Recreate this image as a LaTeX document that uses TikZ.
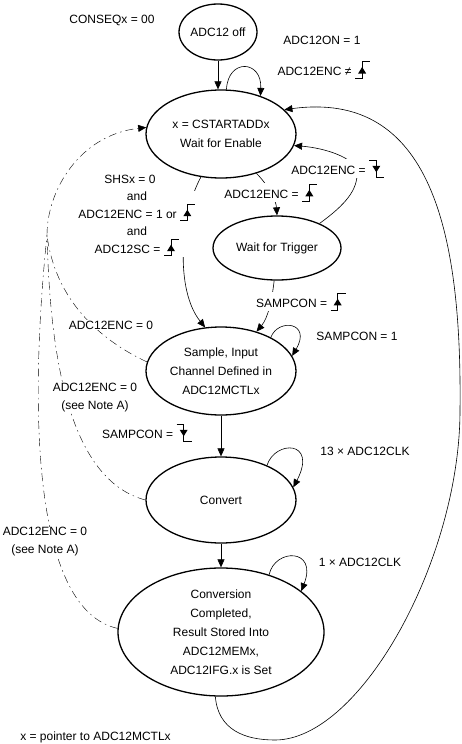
\documentclass[tikz,border=0pt]{standalone}
\usepackage{fontspec}
\setmainfont{Liberation Sans}
\usetikzlibrary{shapes.geometric,arrows.meta}

\newcommand{\edgeup}{\tikz[baseline=0pt,x=1pt,y=1pt,line width=0.6pt]{\draw (0,-2.5) -- (7,-2.5) -- (7,14) -- (15,14); \fill (3,2) -- (11,2) -- (7,8.5) -- cycle;}}
\newcommand{\edgedown}{\tikz[baseline=0pt,x=1pt,y=1pt,line width=0.6pt]{\draw (0,14) -- (7,14) -- (7,-2.5) -- (15,-2.5); \fill (3,8.5) -- (11,8.5) -- (7,2) -- cycle;}}

\tikzset{
    adcstate/.style={ellipse, draw, line width=1.3pt, inner sep=0pt, align=center, font=\fontsize{12}{19}\selectfont},
    cond/.style={inner sep=1pt, align=center, font=\fontsize{12}{17.5}\selectfont},
    erase/.style={fill=white},
    trans/.style={-{Triangle[length=8pt,width=7pt]}, line width=0.6pt},
    abort/.style={line width=0.4pt, dash pattern=on 8pt off 4pt on 1.5pt off 4pt}
}

\begin{document}
\begin{tikzpicture}[x=1pt,y=1pt]
    \useasboundingbox (0,0) rectangle (461,-744);
    % states
    \node[adcstate, minimum width=76pt, minimum height=56pt] (off) at (218,-32) {ADC12 off};
    \node[adcstate, minimum width=150pt, minimum height=88pt] (en) at (221,-134) {x = CSTARTADDx\\Wait for Enable};
    \node[adcstate, minimum width=128pt, minimum height=64pt] (wft) at (277,-248) {Wait for Trigger};
    \node[adcstate, minimum width=150pt, minimum height=88pt] (sam) at (221,-371) {Sample, Input\\Channel Defined in\\ADC12MCTLx};
    \node[adcstate, minimum width=150pt, minimum height=86pt] (cnv) at (221,-500) {Convert};
    \node[adcstate, minimum width=206pt, minimum height=128pt] (cc) at (221,-632) {Conversion\\Completed,\\Result Stored Into\\ADC12MEMx,\\ADC12IFG.x is Set};

    % transitions
    \draw[trans] (off.south) -- (off.south |- en.north);
    \draw[trans] (en.83) .. controls (228,-58) and (262,-60) .. (en.44);
    \draw[trans] (en.312) .. controls (268,-185) and (276,-200) .. (wft.north);
    \draw[trans] (wft.30) .. controls (345,-205) and (358,-190) .. (357,-172)
        .. controls (356,-158) and (325,-148) .. (en.351);
    \draw[trans] (cc.265) .. controls (218,-730) and (245,-740) .. (275,-740)
        .. controls (360,-740) and (460,-560) .. (460,-410)
        .. controls (462,-230) and (430,-90) .. (en.21);
    \draw[trans] (en.245) .. controls (180,-215) and (175,-290) .. (sam.110);
    \draw[trans] (wft.265) .. controls (272,-300) and (268,-318) .. (sam.48);
    \draw[trans] (sam.34) .. controls (278,-318) and (312,-322) .. (sam.12);
    \draw[trans] (sam.south) -- (cnv.north);
    \draw[trans] (cnv.37) .. controls (275,-440) and (318,-440) .. (cnv.10);
    \draw[trans] (cnv.south) -- (cc.north);
    \draw[trans] (cc.50) .. controls (275,-548) and (318,-548) .. (cc.27);

    % ADC12ENC = 0 back to start
    \coordinate (join) at (47,-235);
    \draw[abort] (sam.173) .. controls (100,-340) and (55,-300) .. (join);
    \draw[abort] (cnv.180) .. controls (70,-480) and (50,-360) .. (join);
    \draw[abort] (cc.178) .. controls (35,-610) and (28,-420) .. (join);
    \draw[abort, -{Triangle[length=8pt,width=7pt]}] (join) .. controls (47,-190) and (80,-135) .. (en.175);

    % conditions
    \node[cond, anchor=base] (conseq) at (112,-23.3) {CONSEQx = 00};
    \node[cond, anchor=base] (adcon) at (322,-44.3) {ADC12ON = 1};
    \node[cond, anchor=base] (encne) at (324,-75.5) {ADC12ENC ≠ \edgeup};
    \node[cond, erase, anchor=base] (encdown) at (338,-174.3) {ADC12ENC = \edgedown};
    \node[cond, erase, anchor=base] (encup) at (271,-198.3) {ADC12ENC = \edgeup};
    \node[cond, anchor=base] (shs) at (130,-183.3) {SHSx = 0};
    \node[cond, erase] (shsrest) at (137,-224) {and\\ADC12ENC = 1 or \edgeup\\and\\ADC12SC = \edgeup};
    \node[cond, erase, anchor=base] (sampup) at (301,-307.3) {SAMPCON = \edgeup};
    \node[cond, anchor=base] (samphigh) at (357,-340.3) {SAMPCON = 1};
    \node[cond, erase, anchor=base] (abortsam) at (111,-329.3) {ADC12ENC = 0};
    \node[cond, erase, font=\fontsize{12}{18}\selectfont] (abortcnv) at (95,-398) {ADC12ENC = 0\\(see Note A)};
    \node[cond, anchor=base] (sampdown) at (147,-438.3) {SAMPCON = \edgedown};
    \node[cond, anchor=base] (clkconv) at (365,-455.3) {13 × ADC12CLK};
    \node[cond, erase, font=\fontsize{12}{18}\selectfont] (abortcc) at (45,-542) {ADC12ENC = 0\\(see Note A)};
    \node[cond, anchor=base] (clkdone) at (360,-566.3) {1 × ADC12CLK};
    \node[cond, anchor=base] (note) at (95.5,-740.5) {x = pointer to ADC12MCTLx};
\end{tikzpicture}
\end{document}
